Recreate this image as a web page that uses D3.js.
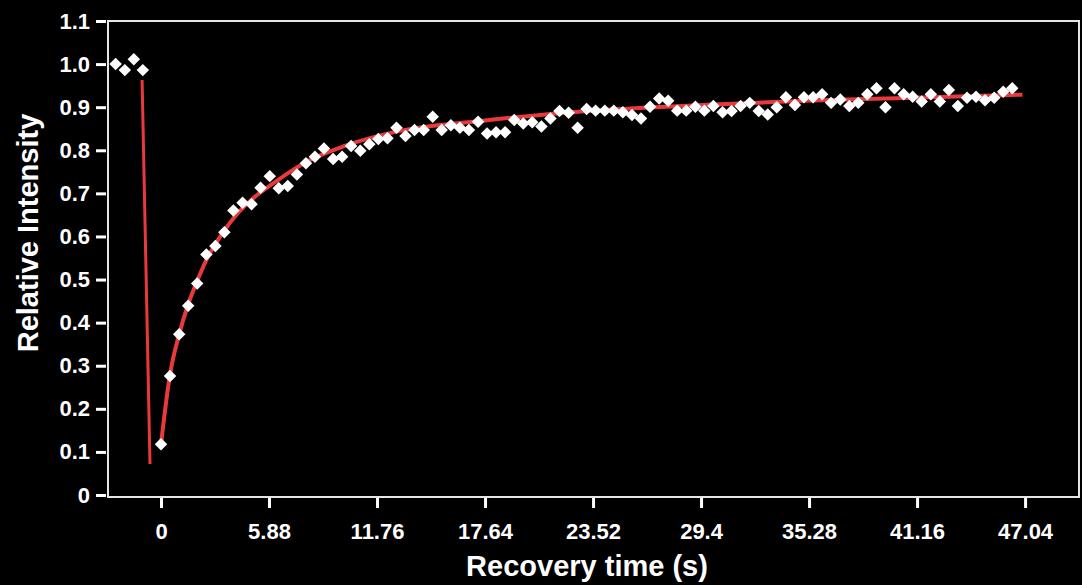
<!DOCTYPE html>
<html>
<head>
<meta charset="utf-8">
<script src="https://cdn.jsdelivr.net/npm/d3@7"></script>
<style>
    body { margin: 0; background: #000; }
    svg { display: block; }
    text { font-family: Arial, "Liberation Sans", sans-serif; font-weight: bold; fill: #fff; }
</style>
</head>
<body>
<svg id="drawing_region"></svg>
<script>
// pre-bleach frames
const preTimes = [-2.47, -1.97, -1.48, -0.99];
const preValues = [1.0, 0.986, 1.011, 0.986];

// recovery frames
const times = [0, 0.49, 0.99, 1.48, 1.97, 2.47, 2.96, 3.45, 3.94, 4.44,
    4.93, 5.42, 5.92, 6.41, 6.90, 7.40, 7.89, 8.38, 8.87, 9.37,
    9.86, 10.35, 10.85, 11.34, 11.83, 12.33, 12.82, 13.31, 13.80, 14.30,
    14.79, 15.28, 15.78, 16.27, 16.76, 17.26, 17.75, 18.24, 18.73, 19.23,
    19.72, 20.21, 20.71, 21.20, 21.69, 22.19, 22.68, 23.17, 23.66, 24.16,
    24.65, 25.14, 25.64, 26.13, 26.62, 27.12, 27.61, 28.10, 28.59, 29.09,
    29.58, 30.07, 30.57, 31.06, 31.55, 32.05, 32.54, 33.03, 33.52, 34.02,
    34.51, 35.00, 35.50, 35.99, 36.48, 36.98, 37.47, 37.96, 38.45, 38.95,
    39.44, 39.93, 40.43, 40.92, 41.41, 41.91, 42.40, 42.89, 43.38, 43.88,
    44.37, 44.86, 45.36, 45.85, 46.34];
const values = [0.118, 0.276, 0.373, 0.439, 0.491, 0.558, 0.578, 0.610, 0.660, 0.678,
    0.675, 0.713, 0.740, 0.712, 0.717, 0.744, 0.770, 0.785, 0.804, 0.780,
    0.785, 0.810, 0.799, 0.814, 0.826, 0.828, 0.852, 0.833, 0.847, 0.847,
    0.878, 0.847, 0.858, 0.852, 0.847, 0.866, 0.839, 0.842, 0.842, 0.870,
    0.862, 0.865, 0.855, 0.874, 0.891, 0.887, 0.852, 0.896, 0.892, 0.892,
    0.892, 0.888, 0.882, 0.874, 0.901, 0.920, 0.915, 0.892, 0.892, 0.901,
    0.892, 0.903, 0.888, 0.891, 0.903, 0.910, 0.891, 0.883, 0.900, 0.923,
    0.905, 0.923, 0.923, 0.930, 0.910, 0.918, 0.903, 0.910, 0.930, 0.944,
    0.900, 0.944, 0.930, 0.924, 0.913, 0.930, 0.913, 0.940, 0.903, 0.922,
    0.924, 0.916, 0.922, 0.936, 0.944];

// fitted recovery curve
const fitTimes = [0, 0.49, 1.0, 1.5, 2.0, 2.5, 3.0, 3.5, 4.0, 5.0, 6.0, 6.5, 8.0, 10.0, 13.0, 17.4, 21.7, 26.0, 30.0, 35.0, 40.0, 46.9];
const fitValues = [0.118, 0.28, 0.375, 0.445, 0.50, 0.548, 0.585, 0.617, 0.645, 0.688, 0.72, 0.735, 0.775, 0.81, 0.845, 0.868, 0.886, 0.898, 0.906, 0.915, 0.921, 0.929];

// bleach drop
const dropTimes = [-1.03, -0.6];
const dropValues = [0.963, 0.072];

const xTicks = [0, 5.88, 11.76, 17.64, 23.52, 29.4, 35.28, 41.16, 47.04];
const yTicks = [0, 0.1, 0.2, 0.3, 0.4, 0.5, 0.6, 0.7, 0.8, 0.9, 1.0, 1.1];

const config = {
    width: 1082,
    height: 585,
    margin: { top: 21, right: 2, bottom: 88, left: 108 }
};

const svg = d3.select('#drawing_region')
    .attr('width', config.width)
    .attr('height', config.height);

const inner_width = config.width - config.margin.left - config.margin.right;
const inner_height = config.height - config.margin.top - config.margin.bottom;

const chart = svg.append('g')
    .attr('transform', `translate(${config.margin.left}, ${config.margin.top})`);

const xscale = d3.scaleLinear()
    .domain([-2.886, 50.03])
    .range([0, inner_width]);

const yscale = d3.scaleLinear()
    .domain([0, 1.1])
    .range([inner_height - 2, 0]);

// axes
const yaxis = d3.axisLeft(yscale)
    .tickValues(yTicks)
    .tickSize(10)
    .tickPadding(6)
    .tickFormat(d => d === 0 ? '0' : d.toFixed(1));

const xaxis = d3.axisBottom(xscale)
    .tickValues(xTicks)
    .tickSize(10)
    .tickPadding(15)
    .tickFormat(d => String(d));

const yaxis_group = chart.append('g')
    .attr('transform', 'translate(-2, 0)')
    .call(yaxis);

const xaxis_group = chart.append('g')
    .attr('transform', `translate(0, ${inner_height + 1})`)
    .call(xaxis);

[yaxis_group, xaxis_group].forEach(g => {
    g.select('.domain').remove();
    g.selectAll('line').attr('stroke', '#fff').attr('stroke-width', 3);
    g.selectAll('text').style('font-size', '22px').attr('fill', '#fff');
});

// frame
chart.append('rect')
    .attr('x', 0)
    .attr('y', 0)
    .attr('width', inner_width - 1)
    .attr('height', inner_height)
    .attr('fill', 'none')
    .attr('stroke', '#e6e6e6')
    .attr('stroke-width', 2);

// red lines
const line = d3.line()
    .x(d => xscale(d[0]))
    .y(d => yscale(d[1]));

chart.append('path')
    .datum(dropTimes.map((t, i) => [t, dropValues[i]]))
    .attr('d', line)
    .attr('fill', 'none')
    .attr('stroke', '#e8393d')
    .attr('stroke-width', 3);

chart.append('path')
    .datum(fitTimes.map((t, i) => [t, fitValues[i]]))
    .attr('d', line.curve(d3.curveMonotoneX))
    .attr('fill', 'none')
    .attr('stroke', '#e8393d')
    .attr('stroke-width', 4);

// points
const points = preTimes.map((t, i) => [t, preValues[i]])
    .concat(times.map((t, i) => [t, values[i]]));

const diamond = d3.symbol().type(d3.symbolSquare).size(78);

chart.selectAll('.pt')
    .data(points)
    .enter()
    .append('path')
    .attr('class', 'pt')
    .attr('d', diamond)
    .attr('transform', d => `translate(${xscale(d[0])}, ${yscale(d[1])}) rotate(45)`)
    .attr('fill', '#fff');

// axis titles
svg.append('text')
    .attr('x', 587)
    .attr('y', 576)
    .attr('text-anchor', 'middle')
    .style('font-size', '29px')
    .text('Recovery time (s)');

svg.append('text')
    .attr('transform', 'rotate(-90, 38, 233)')
    .attr('x', 38)
    .attr('y', 233)
    .attr('text-anchor', 'middle')
    .style('font-size', '29px')
    .text('Relative Intensity');
</script>
</body>
</html>
